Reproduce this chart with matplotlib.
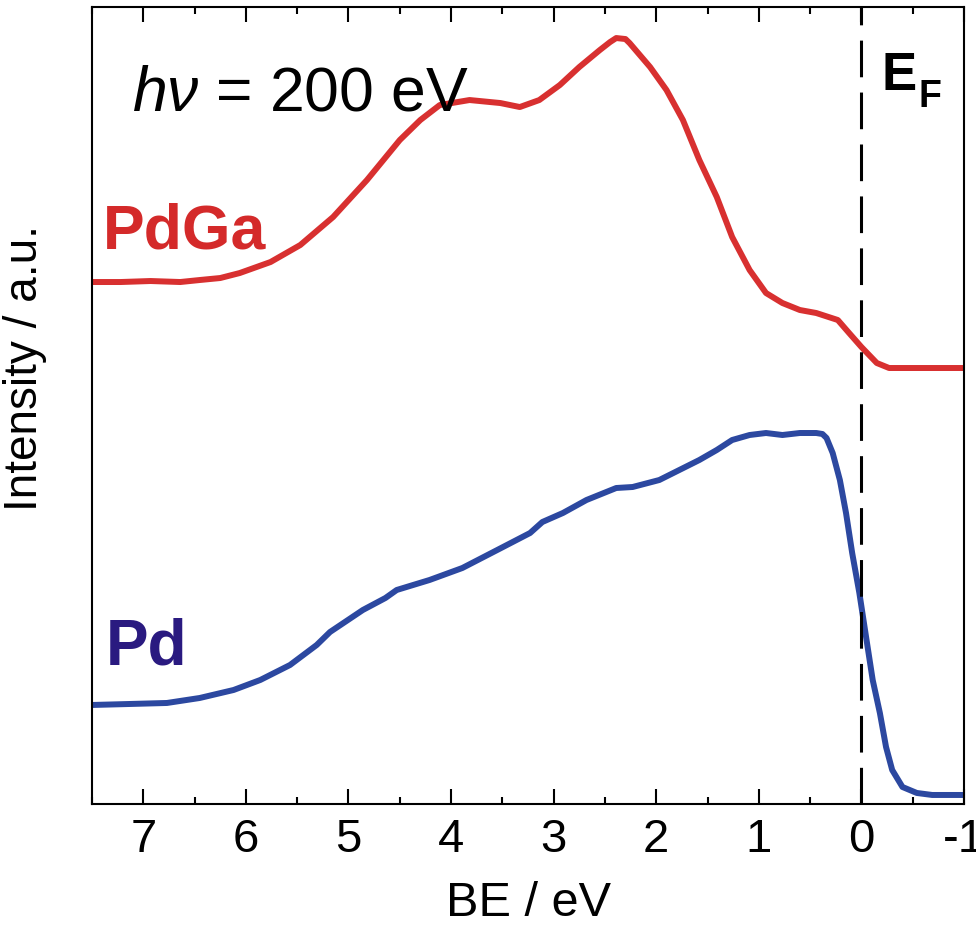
import numpy as np
import matplotlib
matplotlib.use('Agg')
import matplotlib.pyplot as plt

# %% data (BE in eV, intensity in a.u.)

be_pdga = [7.50, 7.22, 6.93, 6.64, 6.45, 6.25, 6.06, 5.76, 5.47, 5.15, 4.82, 4.50, 4.30,
           4.11, 3.82, 3.52, 3.33, 3.14, 2.94, 2.75, 2.55, 2.45, 2.39, 2.30, 2.26, 2.06, 1.90,
           1.74, 1.58, 1.41, 1.26, 1.09, 0.93, 0.77, 0.60, 0.44, 0.23, 0.12, 0.00,
           -0.15, -0.27, -0.60, -1.00]
int_pdga = [522, 522, 523, 522, 524, 526, 531, 542, 559, 587, 624, 664, 684,
            699, 704, 701, 697, 704, 719, 737, 754, 762, 766, 765, 761, 737, 714,
            684, 644, 607, 567, 534, 511, 501, 494, 491, 484, 471, 457,
            441, 436, 436, 436]

be_pd = [7.50, 7.13, 6.77, 6.45, 6.12, 5.86, 5.57, 5.31, 5.18, 4.86, 4.64, 4.53,
         4.21, 3.89, 3.55, 3.23, 3.11, 2.91, 2.68, 2.39, 2.23, 1.97, 1.58, 1.41,
         1.26, 1.09, 0.93, 0.77, 0.60, 0.44, 0.38, 0.34, 0.28, 0.21, 0.15, 0.09, 0.02,
         -0.05, -0.11, -0.18, -0.24, -0.30, -0.40, -0.54, -0.69, -1.00]
int_pd = [99, 100, 101, 106, 114, 124, 139, 159, 172, 194, 206, 214,
          224, 236, 254, 271, 282, 291, 304, 316, 317, 324, 344, 354,
          364, 369, 371, 369, 371, 371, 370, 366, 351, 324, 291, 251, 211,
          164, 124, 91, 57, 34, 17, 11, 9, 9]

x_ticks = [7, 6, 5, 4, 3, 2, 1, 0, -1]
x_ticklabels = ['7', '6', '5', '4', '3', '2', '1', '0', '-1']

# %% plot

plt.rcParams['font.family'] = ['Liberation Sans', 'DejaVu Sans']
plt.rcParams['mathtext.fontset'] = 'custom'
plt.rcParams['mathtext.it'] = 'Liberation Sans:italic'
plt.rcParams['mathtext.rm'] = 'Liberation Sans'

fig = plt.figure(figsize=(9.76, 9.39), dpi=100)
ax = fig.add_axes([0.0943, 0.1438, 0.8934, 0.8487])

ax.plot(be_pdga, int_pdga, color='#d83030', lw=4.3, solid_joinstyle='round', solid_capstyle='round')
ax.plot(be_pd, int_pd, color='#2c48a0', lw=4.3, solid_joinstyle='round', solid_capstyle='round')
ax.axvline(0, color='black', lw=2.2, dashes=(12, 5))

ax.set_xlim(7.5, -1)
ax.set_ylim(0, 797)

ax.set_xticks(x_ticks)
ax.set_xticklabels(x_ticklabels)
ax.set_xticks(np.arange(7.5, -1, -1), minor=True)
ax.set_yticks([])
ax.tick_params(axis='x', which='major', direction='in', length=11, width=1.5,
               top=True, labelsize=34, pad=10)
ax.tick_params(axis='x', which='minor', direction='in', length=5, width=1.5, top=True)
for s in ax.spines.values():
    s.set_linewidth(1.5)

ax.set_xlabel('BE / eV', fontsize=35, labelpad=14)
ax.set_ylabel('Intensity / a.u.', fontsize=33)
ax.yaxis.set_label_coords(-0.052, 0.547)

ax.text(7.39, 556, 'PdGa', color='#d42a2a', fontsize=45, fontweight='bold')
ax.text(7.37, 139, 'Pd', color='#2a1a80', fontsize=46, fontweight='bold')
ax.text(7.11, 694, r'$h\nu$ = 200 eV', fontsize=45)
ax.text(-0.20, 714, 'E', fontsize=38, fontweight='bold')
ax.text(-0.56, 697, 'F', fontsize=27, fontweight='bold')

plt.savefig('out.png', dpi=100)
